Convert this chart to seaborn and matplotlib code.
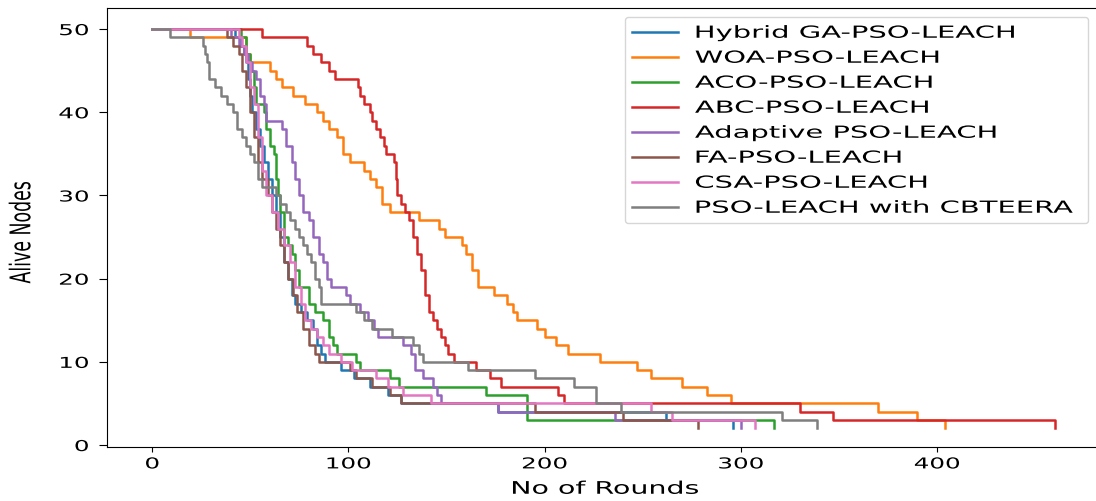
import pandas as pd
import matplotlib
matplotlib.use("Agg")
import matplotlib.pyplot as plt
import seaborn as sns
from matplotlib.patheffects import AbstractPathEffect
from matplotlib.transforms import Affine2D

# step curves: round at which the count changes, alive nodes from that round on
ga_x = [0, 42, 45, 47, 48, 49, 50, 51, 53, 55, 57, 59, 61, 63, 65, 67, 69, 71, 73, 76, 79, 82, 84, 86, 88, 96, 103, 111, 120, 127, 176, 262, 296]
ga_y = [50, 49, 48, 47, 46, 44, 42, 40, 38, 36, 34, 32, 30, 28, 25, 22, 20, 18, 17, 16, 15, 14, 12, 11, 10, 9, 8, 7, 6, 5, 4, 3, 2]

woa_x = [0, 19, 48, 50, 60, 63, 66, 72, 78, 84, 87, 90, 94, 97, 101, 108, 111, 114, 117, 121, 136, 146, 149, 158, 160, 163, 166, 174, 181, 184, 186, 196, 200, 206, 212, 228, 247, 254, 270, 283, 295, 370, 390, 404]
woa_y = [50, 49, 47, 46, 45, 44, 43, 42, 41, 40, 39, 38, 37, 35, 34, 33, 32, 31, 29, 28, 27, 26, 25, 24, 23, 21, 19, 18, 17, 16, 15, 14, 13, 12, 11, 10, 9, 8, 7, 6, 5, 4, 3, 2]

aco_x = [0, 45, 48, 50, 52, 53, 57, 58, 60, 62, 63, 64, 65, 67, 69, 71, 73, 75, 80, 83, 87, 90, 92, 94, 104, 106, 121, 126, 170, 191, 317]
aco_y = [50, 49, 47, 45, 43, 41, 40, 38, 36, 35, 32, 30, 28, 25, 24, 23, 21, 19, 17, 16, 15, 13, 12, 11, 10, 9, 8, 7, 6, 3, 2]

abc_x = [0, 56, 79, 82, 86, 90, 93, 105, 106, 108, 111, 112, 114, 116, 118, 119, 123, 124, 125, 127, 129, 131, 133, 135, 137, 139, 141, 143, 145, 147, 149, 151, 154, 165, 172, 178, 207, 210, 330, 347, 460]
abc_y = [50, 49, 48, 47, 46, 45, 44, 43, 42, 41, 40, 39, 38, 37, 36, 35, 34, 32, 30, 29, 28, 27, 25, 23, 21, 18, 16, 15, 14, 13, 12, 11, 10, 9, 8, 7, 6, 5, 4, 3, 2]

apso_x = [0, 40, 44, 47, 49, 51, 53, 55, 57, 58, 66, 68, 71, 73, 75, 77, 80, 82, 85, 87, 89, 91, 99, 101, 106, 110, 113, 115, 128, 132, 134, 138, 143, 145, 147, 176, 236, 300]
apso_y = [50, 49, 48, 47, 46, 45, 44, 42, 41, 39, 38, 36, 34, 32, 30, 28, 27, 25, 23, 22, 20, 19, 18, 17, 16, 15, 14, 13, 12, 11, 9, 8, 7, 6, 5, 4, 3, 2]

fa_x = [0, 38, 41, 44, 46, 48, 50, 52, 54, 56, 59, 61, 63, 65, 67, 69, 72, 74, 77, 80, 83, 85, 101, 104, 112, 121, 127, 195, 240, 278]
fa_y = [50, 49, 48, 47, 45, 43, 40, 37, 34, 32, 30, 28, 26, 24, 22, 20, 18, 16, 14, 12, 11, 10, 9, 8, 7, 6, 5, 4, 3, 2]

csa_x = [0, 44, 46, 48, 50, 52, 54, 56, 58, 61, 64, 67, 70, 73, 76, 78, 81, 84, 87, 90, 96, 102, 114, 120, 128, 142, 254, 265, 307]
csa_y = [50, 49, 48, 46, 43, 41, 37, 33, 30, 28, 26, 24, 22, 19, 17, 15, 14, 13, 12, 11, 10, 9, 8, 7, 6, 5, 4, 3, 2]

cbt_x = [0, 9, 26, 27, 28, 29, 32, 35, 38, 41, 43, 46, 48, 50, 52, 54, 56, 63, 65, 68, 70, 73, 75, 77, 79, 81, 83, 85, 86, 104, 108, 112, 122, 133, 136, 138, 161, 195, 215, 226, 239, 321, 339]
cbt_y = [50, 49, 48, 47, 46, 44, 43, 42, 41, 40, 38, 37, 36, 35, 34, 32, 31, 30, 29, 28, 27, 26, 25, 24, 23, 22, 20, 19, 17, 16, 15, 14, 13, 12, 11, 10, 9, 8, 7, 5, 4, 3, 2]

labels = ["Hybrid GA-PSO-LEACH", "WOA-PSO-LEACH", "ACO-PSO-LEACH", "ABC-PSO-LEACH",
          "Adaptive PSO-LEACH", "FA-PSO-LEACH", "CSA-PSO-LEACH", "PSO-LEACH with CBTEERA"]
series = [(ga_x, ga_y), (woa_x, woa_y), (aco_x, aco_y), (abc_x, abc_y),
          (apso_x, apso_y), (fa_x, fa_y), (csa_x, csa_y), (cbt_x, cbt_y)]

df = pd.concat([pd.DataFrame({"Round": x, "Alive": y, "Protocol": name})
                for name, (x, y) in zip(labels, series)], ignore_index=True)


# the reference image is stretched sideways, so text glyphs get widened too
class HStretch(AbstractPathEffect):
    def __init__(self, sx, anchor="center"):
        super().__init__()
        self.sx = sx
        self.anchor = anchor

    def draw_path(self, renderer, gc, tpath, affine, rgbFace=None):
        ext = affine.transform_path(tpath).get_extents()
        x0 = {"left": ext.x0, "right": ext.x1}.get(self.anchor, (ext.x0 + ext.x1) / 2)
        t = affine + Affine2D().translate(-x0, 0).scale(self.sx, 1).translate(x0, 0)
        renderer.draw_path(gc, tpath, t, rgbFace)


SX = 1.64
W, H = 1096, 501

fig = plt.figure(figsize=(W / 100, H / 100), dpi=100)
ax = fig.add_axes([106.9 / W, 54.3 / H, 997.1 / W, 438.4 / H])

sns.lineplot(data=df, x="Round", y="Alive", hue="Protocol", hue_order=labels,
             palette=sns.color_palette("tab10", 8), estimator=None,
             drawstyle="steps-post", linewidth=1.8, ax=ax)

ax.set_xlim(-23.1, 485.1)
ax.set_ylim(-0.2, 52.5)
ax.set_xticks([0, 100, 200, 300, 400])
ax.set_yticks([0, 10, 20, 30, 40, 50])
ax.tick_params(labelsize=10.8)
ax.tick_params(axis="y", length=6, pad=7)
ax.set_xlabel("No of Rounds", fontsize=12.5, labelpad=6)
ax.set_ylabel("Alive Nodes", fontsize=12.5)
ax.yaxis.set_label_coords(-0.077, 0.49)

handles, names = ax.get_legend_handles_labels()
leg = ax.legend(handles, names, loc="upper left", bbox_to_anchor=(0.5196, 0.5126, 0.4644, 0.4674),
                mode="expand", borderaxespad=0, fontsize=12,
                handlelength=2.8, handletextpad=1.0, labelspacing=0.42)

for lbl in ax.get_xticklabels():
    lbl.set_path_effects([HStretch(SX, "center")])
for lbl in ax.get_yticklabels():
    lbl.set_path_effects([HStretch(SX, "right")])
ax.xaxis.label.set_path_effects([HStretch(SX, "center")])
ax.yaxis.label.set_path_effects([HStretch(SX, "center")])
for txt in leg.get_texts():
    txt.set_path_effects([HStretch(1.74, "left")])

fig.savefig("out.png", dpi=100)
plt.close(fig)
print("Saved: out.png")
